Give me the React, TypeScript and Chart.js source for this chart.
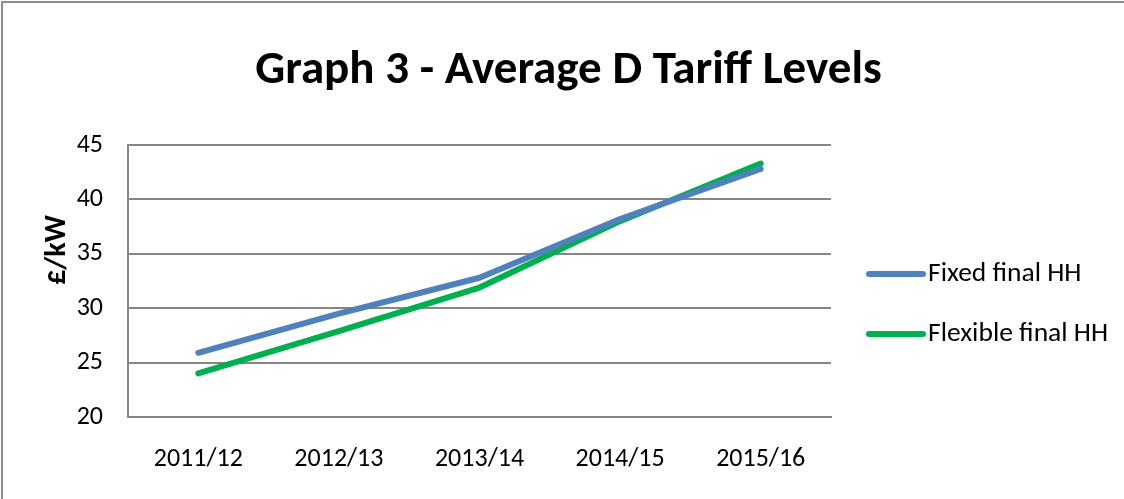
import React, { useEffect, useRef } from "react";
import { Chart, registerables } from "chart.js";

Chart.register(...registerables);

const categories = ["2011/12", "2012/13", "2013/14", "2014/15", "2015/16"];
const fixedFinalHH = [25.9, 29.5, 32.8, 38.2, 42.8];
const flexibleFinalHH = [24.0, 27.9, 31.9, 38.0, 43.3];
const seriesNames = ["Fixed final HH", "Flexible final HH"];
const seriesColors = ["#4F81BD", "#00B050"];
const yMin = 20;
const yMax = 45;
const yStep = 5;
const titleText = "Graph 3 - Average D Tariff Levels";
const yAxisLabel = "£/kW";

const FONT = "Carlito, Lato, 'Liberation Sans', sans-serif";
const GRID = "#868686";

const framePlugin = {
  id: "frame",
  beforeDraw(chart: any) {
    const { ctx, width, height } = chart;
    ctx.save();
    ctx.fillStyle = "#ffffff";
    ctx.fillRect(0, 0, width, height);
    ctx.strokeStyle = "#8c8c8c";
    ctx.lineWidth = 2;
    ctx.beginPath();
    ctx.moveTo(2, height);
    ctx.lineTo(2, 2);
    ctx.lineTo(width, 2);
    ctx.stroke();
    ctx.restore();
  },
};

const yTitlePlugin = {
  id: "yTitle",
  afterDraw(chart: any) {
    const { ctx, chartArea } = chart;
    ctx.save();
    ctx.translate(chartArea.left - 71, chartArea.top + 105);
    ctx.rotate(-Math.PI / 2);
    ctx.font = `bold 30px ${FONT}`;
    ctx.fillStyle = "#000";
    ctx.textAlign = "center";
    ctx.textBaseline = "middle";
    ctx.fillText(yAxisLabel, 0, 0);
    ctx.restore();
  },
};

const legendPlugin = {
  id: "customLegend",
  afterDraw(chart: any) {
    const { ctx, chartArea } = chart;
    const x0 = chartArea.right + 38;
    const x1 = chartArea.right + 92;
    chart.data.datasets.forEach((ds: any, i: number) => {
      const y = chartArea.top + 129 + i * 60;
      ctx.save();
      ctx.strokeStyle = ds.borderColor;
      ctx.lineWidth = 6;
      ctx.lineCap = "round";
      ctx.beginPath();
      ctx.moveTo(x0, y);
      ctx.lineTo(x1, y);
      ctx.stroke();
      ctx.font = `27.5px ${FONT}`;
      ctx.fillStyle = "#000";
      ctx.textAlign = "left";
      ctx.textBaseline = "middle";
      ctx.fillText(ds.label, x1 + 5, y);
      ctx.restore();
    });
  },
};

export default function App() {
  const ref = useRef<HTMLCanvasElement>(null);
  useEffect(() => {
    document.body.style.margin = "0";
    const chart = new Chart(ref.current!, {
      type: "line",
      data: {
        labels: categories,
        datasets: [
          {
            label: seriesNames[0],
            data: fixedFinalHH,
            borderColor: seriesColors[0],
            backgroundColor: seriesColors[0],
            borderWidth: 6,
            borderCapStyle: "round",
            borderJoinStyle: "round",
            pointRadius: 0,
            tension: 0,
          },
          {
            label: seriesNames[1],
            data: flexibleFinalHH,
            borderColor: seriesColors[1],
            backgroundColor: seriesColors[1],
            borderWidth: 6,
            borderCapStyle: "round",
            borderJoinStyle: "round",
            pointRadius: 0,
            tension: 0,
          },
        ],
      },
      options: {
        animation: false,
        responsive: true,
        maintainAspectRatio: false,
        layout: { padding: { left: 13, right: 0, top: 0, bottom: 0 } },
        plugins: {
          legend: { display: false },
          tooltip: { enabled: false },
          title: {
            display: true,
            text: titleText,
            color: "#000",
            font: { family: FONT, size: 47, weight: "bold" },
            padding: { top: 42.8, bottom: 45.8 },
          },
        },
        scales: {
          x: {
            type: "category",
            offset: true,
            grid: { display: true, drawOnChartArea: false, drawTicks: false },
            border: { display: true, color: GRID, width: 2 },
            ticks: {
              color: "#000",
              font: { family: FONT, size: 26 },
              padding: 27,
              maxRotation: 0,
              autoSkip: false,
            },
            afterFit: (s: any) => {
              s.height = 82;
            },
          },
          y: {
            min: yMin,
            max: yMax,
            grid: { color: GRID, lineWidth: 2, drawTicks: false },
            border: { display: true, color: GRID, width: 2 },
            ticks: {
              stepSize: yStep,
              color: "#000",
              font: { family: FONT, size: 26 },
              padding: 25,
            },
            afterFit: (s: any) => {
              s.width = 115;
            },
          },
          y2: {
            position: "right",
            display: true,
            grid: { display: false },
            border: { display: false },
            ticks: { display: false },
            afterFit: (s: any) => {
              s.width = 293;
            },
          },
        },
      },
      plugins: [framePlugin, yTitlePlugin, legendPlugin],
    } as any);
    return () => chart.destroy();
  }, []);
  return (
    <div style={{ position: "absolute", left: 0, top: 0, width: 1124, height: 499 }}>
      <canvas ref={ref} />
    </div>
  );
}
